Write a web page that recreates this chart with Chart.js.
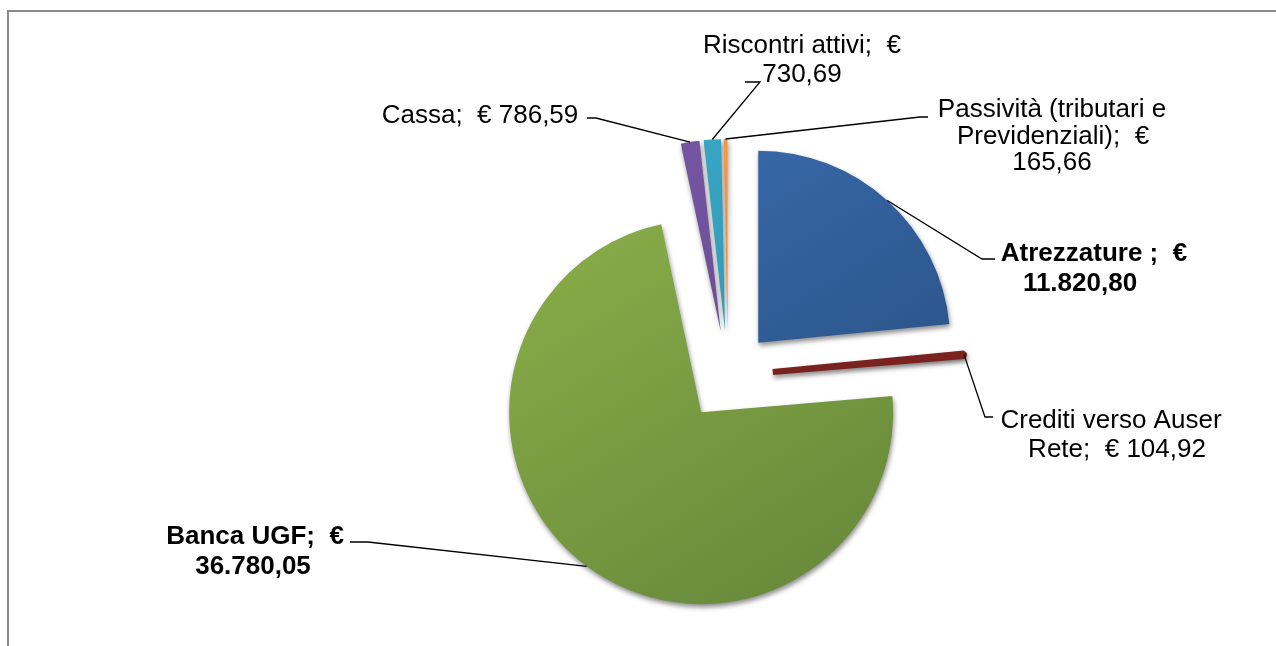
<!DOCTYPE html>
<html>
<head>
<meta charset="utf-8">
<script src="https://cdn.jsdelivr.net/npm/chart.js@4.4.1/dist/chart.umd.min.js"></script>
<style>
  html, body { margin: 0; padding: 0; background: #fff; }
  #wrap { position: relative; width: 1276px; height: 646px; overflow: hidden; }
  #frame { position: absolute; left: 7px; top: 10px; width: 1300px; height: 700px;
           border-top: 2px solid #8a8a8a; border-left: 2px solid #8a8a8a; }
  canvas { position: absolute; left: 0; top: 0; }
</style>
</head>
<body>
<div id="wrap"><div id="frame"></div><canvas id="pie" width="1276" height="646"></canvas></div>
<script>
// DATA
const categories = ["Atrezzature", "Crediti verso Auser Rete", "Banca UGF", "Cassa", "Riscontri attivi", "Passività (tributari e Previdenziali)"];
const values = [11820.80, 104.92, 36780.05, 786.59, 730.69, 165.66];

// STYLE
const topColors = ["#3b6fb2", "#a0302c", "#8fb34b", "#7858a6", "#3aa9c8", "#f79d48"];
const bottomColors = ["#264b7c", "#7a2220", "#66883a", "#5c4287", "#2a8eab", "#df8029"];
const sliceBorders = [0, 6, 0, 0, 0, 0]; // the thin red slice shows its 3d edge
const RADIUS = 192;
const EXPLODE = 45;
const FONT = '"Liberation Sans", Arial, sans-serif';

// 11820.8 -> "11.820,80"
function euro(v) {
  const [i, d] = v.toFixed(2).split(".");
  return i.replace(/\B(?=(\d{3})+(?!\d))/g, ".") + "," + d;
}

// label boxes: lines, x centre of each line, first baseline, line height, leader elbow points
const labels = [
  { lines: ["Atrezzature ;  €", euro(values[0])], xs: [1094, 1080], y: 261, lh: 30, bold: true,
    leader: [[982, 259], [995, 259]] },
  { lines: ["Crediti verso Auser", "Rete;  € " + euro(values[1])], xs: [1111, 1117], y: 428, lh: 29, bold: false,
    leader: [[985, 417], [993, 417]] },
  { lines: ["Banca UGF;  €", euro(values[2])], xs: [255, 253], y: 544, lh: 30, bold: true,
    leader: [[368, 542], [350, 542]] },
  { lines: ["Cassa;  € " + euro(values[3])], xs: [480], y: 123, lh: 29, bold: false,
    leader: [[596, 118], [587, 118]] },
  { lines: ["Riscontri attivi;  €", euro(values[4])], xs: [802, 802], y: 53, lh: 29, bold: false,
    leader: [[760, 82], [745, 82]] },
  { lines: ["Passività (tributari e", "Previdenziali);  €", euro(values[5])], xs: [1052, 1053, 1052], y: 117, lh: 26.5, bold: false,
    leader: [[920, 117], [928, 117]] }
];

// pull every slice out from the centre
const explodePlugin = {
  id: "explode",
  afterDatasetsUpdate(chart) {
    chart.getDatasetMeta(0).data.forEach(arc => {
      const mid = (arc.startAngle + arc.endAngle) / 2;
      arc.x += Math.cos(mid) * EXPLODE;
      arc.y += Math.sin(mid) * EXPLODE;
    });
  },
  beforeDatasetsDraw(chart) {
    const c = chart.ctx;
    c.save();
    c.shadowColor = "rgba(0,0,0,0.45)";
    c.shadowBlur = 5;
    c.shadowOffsetX = 1;
    c.shadowOffsetY = 3;
  },
  afterDatasetsDraw(chart) {
    chart.ctx.restore();
  }
};

// data labels with leader lines
const labelPlugin = {
  id: "pieLabels",
  afterDraw(chart) {
    const c = chart.ctx;
    const arcs = chart.getDatasetMeta(0).data;
    c.save();
    labels.forEach((lb, i) => {
      const arc = arcs[i];
      const mid = (arc.startAngle + arc.endAngle) / 2;
      const ex = arc.x + Math.cos(mid) * arc.outerRadius;
      const ey = arc.y + Math.sin(mid) * arc.outerRadius;
      c.strokeStyle = "#000";
      c.lineWidth = 1.3;
      c.beginPath();
      c.moveTo(ex, ey);
      lb.leader.forEach(p => c.lineTo(p[0], p[1]));
      c.stroke();

      c.fillStyle = "#000";
      c.font = (lb.bold ? "bold " : "") + "26px " + FONT;
      c.textAlign = "center";
      c.textBaseline = "alphabetic";
      lb.lines.forEach((t, k) => c.fillText(t, lb.xs[k], lb.y + k * lb.lh));
    });
    c.restore();
  }
};

function sliceFill(ctx) {
  const i = ctx.dataIndex;
  const area = ctx.chart.chartArea;
  if (!area) return topColors[i];
  const cx = (area.left + area.right) / 2;
  const cy = (area.top + area.bottom) / 2;
  const g = ctx.chart.ctx.createLinearGradient(cx - RADIUS, cy - RADIUS - EXPLODE, cx + RADIUS * 0.5, cy + RADIUS + EXPLODE);
  g.addColorStop(0, topColors[i]);
  g.addColorStop(1, bottomColors[i]);
  return g;
}

const ctx = document.getElementById("pie").getContext("2d");
const chart = new Chart(ctx, {
  type: "pie",
  data: {
    labels: categories,
    datasets: [{
      data: values,
      backgroundColor: sliceFill,
      borderColor: bottomColors,
      borderWidth: sliceBorders,
      borderJoinStyle: "bevel",
      radius: RADIUS
    }]
  },
  options: {
    responsive: false,
    animation: false,
    rotation: 0,
    layout: { padding: { left: 180, right: 0, top: 106, bottom: 0 } },
    plugins: {
      legend: { display: false },
      tooltip: { enabled: false }
    }
  },
  plugins: [explodePlugin, labelPlugin]
});
</script>
</body>
</html>
